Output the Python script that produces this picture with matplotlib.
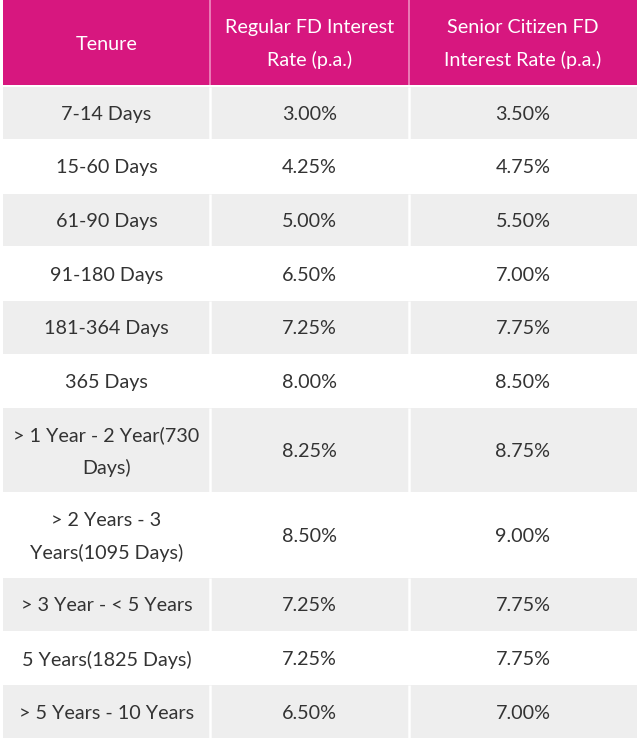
import matplotlib
matplotlib.use("Agg")
import matplotlib.pyplot as plt
from matplotlib.patches import Rectangle

headers = ["Tenure", "Regular FD Interest\nRate (p.a.)", "Senior Citizen FD\nInterest Rate (p.a.)"]
tenures = ["7-14 Days", "15-60 Days", "61-90 Days", "91-180 Days", "181-364 Days", "365 Days",
           "> 1 Year - 2 Year(730\nDays)", "> 2 Years - 3\nYears(1095 Days)", "> 3 Year - < 5 Years",
           "5 Years(1825 Days)", "> 5 Years - 10 Years"]
regular = [3.00, 4.25, 5.00, 6.50, 7.25, 8.00, 8.25, 8.50, 7.25, 7.25, 6.50]
senior = [3.50, 4.75, 5.50, 7.00, 7.75, 8.50, 8.75, 9.00, 7.75, 7.75, 7.00]

W, H = 639, 742
fig = plt.figure(figsize=(W / 100, H / 100), dpi=100)
ax = fig.add_axes([0, 0, 1, 1])
ax.set_xlim(0, W)
ax.set_ylim(H, 0)
ax.axis("off")

FONT = "Lato"
MAGENTA = "#d7177f"
GRAY = "#eeeeee"
TEXT = "#333333"
col_edges = [3, 210, 409, 637]
header_h = 85
single_h, double_h = 53.6, 85.0
gap = 1.0
fs = 14.2

# header
for c in range(3):
    x0, x1 = col_edges[c], col_edges[c + 1]
    ax.add_patch(Rectangle((x0, 0), x1 - x0, header_h, facecolor=MAGENTA, edgecolor="none"))
    ax.text((x0 + x1) / 2, header_h / 2 + 1.5, headers[c], ha="center", va="center", color="white",
            fontsize=fs, family=FONT, linespacing=1.98)
for xd in col_edges[1:3]:
    ax.plot([xd, xd], [0, header_h], color="#ee8cc0", lw=1.2, solid_capstyle="butt")

y = header_h + 1.5
for i, (t, r, s) in enumerate(zip(tenures, regular, senior)):
    h = double_h if "\n" in t else single_h
    if i % 2 == 0:
        ax.add_patch(Rectangle((col_edges[0], y), col_edges[3] - col_edges[0], h - gap,
                               facecolor=GRAY, edgecolor="none"))
        for xd in col_edges[1:3]:
            ax.plot([xd, xd], [y, y + h - gap], color="white", lw=1.8, solid_capstyle="butt")
    vals = [t, f"{r:.2f}%", f"{s:.2f}%"]
    for c in range(3):
        x0, x1 = col_edges[c], col_edges[c + 1]
        ax.text((x0 + x1) / 2, y + (h - gap) / 2 + 1.5, vals[c], ha="center", va="center", color=TEXT,
                fontsize=fs, family=FONT, linespacing=2.0)
    y += h

fig.savefig("out.png", dpi=100, facecolor="white")
